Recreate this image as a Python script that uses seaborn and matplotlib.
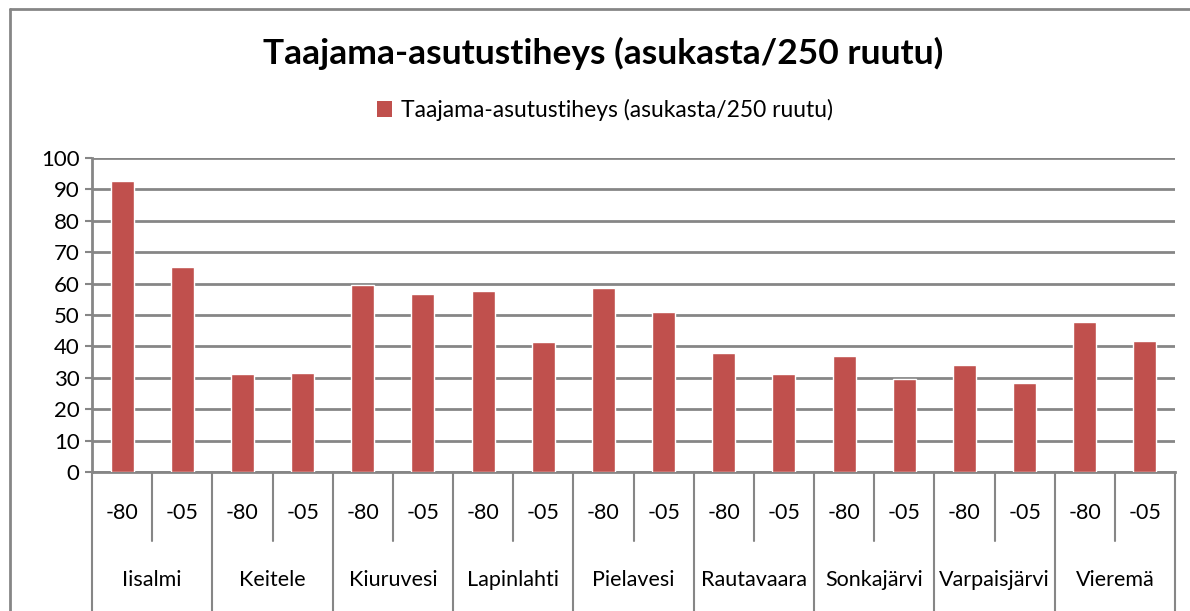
import matplotlib
matplotlib.use("Agg")
import matplotlib.pyplot as plt
import seaborn as sns
import pandas as pd
from matplotlib.lines import Line2D
from matplotlib.patches import Patch

# ---- data ----
municipalities = ["Iisalmi", "Keitele", "Kiuruvesi", "Lapinlahti", "Pielavesi",
                  "Rautavaara", "Sonkajärvi", "Varpaisjärvi", "Vieremä"]
periods = ["-80", "-05"]
values_80 = [92.6, 31.1, 59.6, 57.6, 58.6, 37.8, 37.1, 34.0, 47.8]
values_05 = [65.2, 31.6, 56.6, 41.3, 50.9, 31.1, 29.6, 28.5, 41.7]
series_name = "Taajama-asutustiheys (asukasta/250 ruutu)"
title_text = "Taajama-asutustiheys (asukasta/250 ruutu)"
y_ticks = [0, 10, 20, 30, 40, 50, 60, 70, 80, 90, 100]

rows = []
for m, a, b in zip(municipalities, values_80, values_05):
    rows.append({"slot": f"{m} -80", "municipality": m, "period": "-80", "value": a})
    rows.append({"slot": f"{m} -05", "municipality": m, "period": "-05", "value": b})
df = pd.DataFrame(rows)

sns.set_theme(style="white")
plt.rcParams["font.family"] = ["Lato", "DejaVu Sans"]
plt.rcParams["text.color"] = "black"
plt.rcParams["ytick.labelcolor"] = "black"

BAR = "#C0504D"
GRID = "#868686"

fig = plt.figure(figsize=(11.9, 6.11), dpi=100)
W, H = 1190, 611
L, R, T, B = 92, 1175, 158, 472
ax = fig.add_axes([L / W, (H - B) / H, (R - L) / W, (B - T) / H])

sns.barplot(data=df, x="slot", y="value", order=list(df["slot"]), color=BAR,
            width=0.38, saturation=1, ax=ax, zorder=3)

ax.set_ylim(0, 100)
ax.set_xlim(-0.5, len(df) - 0.5)
ax.set_yticks(y_ticks)
ax.set_yticklabels([str(v) for v in y_ticks], fontsize=16, color="black")
ax.set_xticks([])
ax.set_xlabel("")
ax.set_ylabel("")
ax.yaxis.grid(True, color=GRID, linewidth=2.0, zorder=0)
ax.set_axisbelow(True)
ax.tick_params(axis="y", length=5, width=1.5, color=GRID, pad=4, left=True)
for s in ["top", "right"]:
    ax.spines[s].set_visible(False)
ax.spines["left"].set_color(GRID)
ax.spines["left"].set_linewidth(2.0)
ax.spines["bottom"].set_color(GRID)
ax.spines["bottom"].set_linewidth(2.0)

# multi-level category axis
axh = B - T
short_y = -(541 - B) / axh
long_y = -(H + 5 - B) / axh
trans = ax.get_xaxis_transform()
n = len(df)
for i in range(n + 1):
    xb = i - 0.5
    y_end = long_y if i % 2 == 0 else short_y
    ax.add_line(Line2D([xb, xb], [0, y_end], transform=trans, color=GRID,
                       linewidth=1.5, clip_on=False))
lab_y1 = -(513 - B) / axh
lab_y2 = -(580 - B) / axh
for i, p in enumerate(df["period"]):
    ax.text(i, lab_y1, p, transform=trans, ha="center", va="center", fontsize=15.5,
            color="black")
for k, m in enumerate(municipalities):
    ax.text(2 * k + 0.5, lab_y2, m, transform=trans, ha="center", va="center",
            fontsize=15.5, color="black")

# chart area border (top and left visible)
fig.add_artist(Line2D([10 / W, 1.0], [1 - 9 / H, 1 - 9 / H], transform=fig.transFigure,
                      color=GRID, linewidth=2.0))
fig.add_artist(Line2D([10 / W, 10 / W], [0, 1 - 9 / H], transform=fig.transFigure,
                      color=GRID, linewidth=2.0))

fig.text(603 / W, 1 - 53 / H, title_text, ha="center", va="center",
         fontsize=25.5, fontweight="bold", color="black")
handles = [Patch(facecolor=BAR, edgecolor="none", label=series_name)]
fig.legend(handles=handles, loc="center", bbox_to_anchor=(605 / W, 1 - 110 / H),
           frameon=False, fontsize=16.5, handlelength=0.65, handleheight=0.65,
           handletextpad=0.4, labelcolor="black")

fig.savefig("out.png", dpi=100)
